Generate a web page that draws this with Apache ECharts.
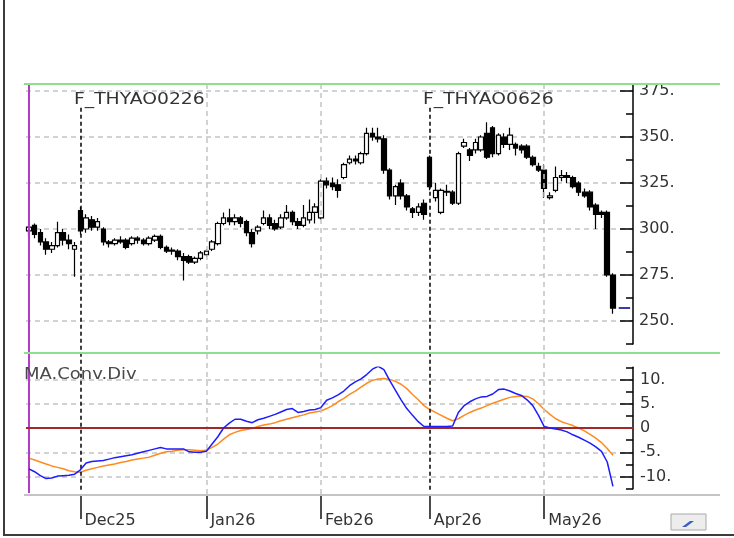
<!DOCTYPE html>
<html>
<head>
<meta charset="utf-8">
<script src="https://cdn.jsdelivr.net/npm/echarts@6/dist/echarts.min.js"></script>
<style>html,body{margin:0;padding:0;background:#fff}#c{width:734px;height:538px}</style>
</head>
<body>
<div id="c"></div>
<script>
// ---- data ----
const opens  = [299,302,298,293,289,291,298,294,289,310, 300,305,301,300,293,292,294,294,292,295, 294,292,294,296,290,288,288,285,285,282, 284,286,289,292,303,306,304,306,304,298, 299,303,306,303,301,306,309,304,302,305, 309,306,326,325,324,328,336,338,336,341, 352,350,349,332,318,325,318,311,309,314, 339,317,309,320,320,314,345,343,343,343, 352,355,341,350,346,346,345,345,339,334, 332,317,321,328,329,328,325,320,320,313, 309,309,275];
const closes = [301,297,293,289,291,298,294,292,291,299, 306,301,304,293,292,294,293,290,295,294, 292,295,296,290,288,288.5,285,283,282,284, 287,288,293,303,306,304,306,303,298,292, 301,306,302,300,306,309,304,302,306,309, 312,326,324,323,321,335,338,337,341,352, 350,349,332,318,323,318,312,309,312,308, 323,321,321,320.5,314,341,347,340,347,350, 339,341,351,346,351,344,343,339,335,332, 322,318,328,329,328,323,320,318,312,308, 308,275,257];
const lows   = [296,295,291,286,287,290,291,289,274,297, 298,299,299,291,290,291,292,289,291,292, 291,291,293,289,287,286,283,272,281,281, 283,285,288,291,302,302,302,301,296,290, 297,302,300,299,300,305,302,300,301,303, 303,305,322,321,317,327,335,335,335,340, 348,347,330,316,313,316,310,306,307,305, 321,315,308,318,313,313,344,337,341,342, 338,339,340,344,343,340,341,338,334,331, 317,316,320,326,325,322,318,317,310,300, 306,274,254];
const highs  = [302,303,300,295,293,304,300,297,293,312, 308,307,306,301,294,295,296,295,296,296, 295,296,297,297,291,290,289,287,286,285, 288,289,294,304,309,311,308,307,305,300, 302,310,308,305,308,313,310,306,313,316, 314,327,328,328,327,336,340,340,342,355, 355,355,351,333,324,327,319,312,314,316, 340,325,322,324,321,342,349,344,349,351, 358,356,352,352,355,347,346,346,340,336, 335,320,334,332,331,329,326,322,321,314, 310,310,276];
const macdLine   = [-8.4,-9.0,-9.8,-10.4,-10.3,-9.9,-9.8,-9.7,-9.5,-8.6, -7.2,-6.9,-6.8,-6.7,-6.4,-6.1,-5.9,-5.7,-5.5,-5.2, -4.9,-4.6,-4.3,-4.0,-4.3,-4.3,-4.3,-4.3,-4.9,-5.0, -5.0,-4.8,-3.3,-1.8,0.0,1.0,1.8,1.8,1.4,1.1, 1.7,2.0,2.4,2.8,3.3,3.8,4.0,3.2,3.4,3.7, 3.8,4.2,5.7,6.2,6.8,7.6,8.7,9.5,10.1,11.0, 12.1,12.7,12.0,9.8,7.8,5.8,4.0,2.6,1.3,0.3, 0.3,0.3,0.3,0.3,0.4,3.2,4.6,5.4,6.0,6.4, 6.5,7.0,7.9,8.0,7.6,7.1,6.7,5.8,4.6,2.6, 0.3,0.0,-0.2,-0.4,-0.8,-1.4,-1.9,-2.5,-3.1,-3.9, -4.8,-7.0,-12.0];
const signalLine = [-6.2,-6.6,-7.0,-7.4,-7.8,-8.1,-8.4,-8.8,-9.0,-9.1, -8.7,-8.4,-8.1,-7.8,-7.6,-7.4,-7.1,-6.9,-6.6,-6.4, -6.2,-6.0,-5.6,-5.2,-4.9,-4.8,-4.6,-4.5,-4.5,-4.6, -4.7,-4.6,-4.0,-3.3,-2.3,-1.4,-0.9,-0.5,-0.3,-0.1, 0.3,0.6,0.8,1.1,1.5,1.8,2.1,2.4,2.7,3.1, 3.3,3.5,4.0,4.6,5.4,6.1,6.9,7.6,8.4,9.2, 9.8,10.1,10.2,10.0,9.6,9.0,8.1,6.9,5.8,4.6, 3.8,3.2,2.6,2.0,1.5,1.9,2.6,3.2,3.7,4.1, 4.6,5.1,5.5,5.9,6.3,6.5,6.6,6.5,6.0,5.0, 3.8,2.8,1.9,1.3,0.9,0.5,0.0,-0.6,-1.3,-2.1, -3.0,-4.2,-5.6];
const lastPrice = 257;
const lastMarkIdx = [103,104,105];
const slotCount = 106;
const categories = Array.from({length: slotCount}, (_, i) => String(i));
const monthIdx = [9,31,51,70,90];
const monthLabels = ['Dec25','Jan26','Feb26','Apr26','May26'];
const rollIdx = [9,70];
const rollLabels = ['F_THYAO0226','F_THYAO0626'];
const monthGridIdx = [31,51,90];
const startIdx = 0;
const priceTicks = [250,275,300,325,350,375];
const macdTicks = [-10,-5,0,5,10];
const panelTitle = 'MA.Conv.Div';

// ---- build ----
const FONT = 'DejaVu Sans';
const TXT = '#333';
const candleData = categories.map((_, i) => i < opens.length ? [opens[i], closes[i], lows[i], highs[i]] : '-');
const lastData = categories.map((_, i) => lastMarkIdx.includes(i) ? lastPrice : '-');
const pad = (arr) => categories.map((_, i) => i < arr.length ? arr[i] : '-');
const empty = categories.map(() => '-');

const chart = echarts.init(document.getElementById('c'), null, {renderer: 'canvas'});
const gridDash = [5, 4];
const vLines = [];
monthGridIdx.forEach(i => vLines.push([{coord: [String(i), 1]}, {coord: [String(i), 0]}]));
rollIdx.forEach(i => vLines.push([{coord: [String(i), 0.942], lineStyle: {color: '#000', type: [4, 3], width: 1.5}}, {coord: [String(i), 0.012]}]));
vLines.push([{coord: [String(startIdx), 1], lineStyle: {color: '#b23cc8', type: 'solid', width: 2}}, {coord: [String(startIdx), 0.005]}]);

const option = {
  animation: false,
  textStyle: {fontFamily: FONT},
  grid: [
    {left: 26, top: 84.1, width: 607, height: 259.9, outerBoundsMode: 'none'},
    {left: 26, top: 367.25, width: 607, height: 121.5, outerBoundsMode: 'none'},
    {left: 26, top: 84, width: 607, height: 411, outerBoundsMode: 'none'}
  ],
  xAxis: [
    {type: 'category', gridIndex: 0, data: categories, show: false},
    {type: 'category', gridIndex: 1, data: categories, show: false},
    {type: 'category', gridIndex: 2, data: categories, position: 'bottom', offset: 8,
      axisLine: {show: false},
      axisTick: {show: true, alignWithLabel: true, interval: (i) => monthIdx.includes(i), length: 24, lineStyle: {color: '#111', width: 1.5}},
      axisLabel: {show: true, interval: (i) => monthIdx.includes(i), formatter: (v, i) => monthLabels[monthIdx.indexOf(Number(v))] || '',
        align: 'left', verticalAlign: 'middle', padding: [0, 0, 0, 4], margin: 18, fontSize: 16, color: TXT, fontFamily: FONT},
      splitLine: {show: false}}
  ],
  yAxis: [
    {type: 'value', gridIndex: 0, position: 'right', min: 237.5, max: 378.75, interval: 12.5,
      axisLine: {show: true, lineStyle: {color: '#000', width: 1.5}},
      axisTick: {show: true, inside: true, length: 7, lineStyle: {color: '#000', width: 1.5}},
      axisLabel: {show: false},
      splitLine: {show: true, lineStyle: {color: ['rgba(0,0,0,0)', '#c4c4c4'], type: gridDash, width: 1.5}}},
    {type: 'value', gridIndex: 0, position: 'right', min: 237.5, max: 378.75,
      axisLine: {show: false},
      axisTick: {show: true, inside: true, length: 13, customValues: priceTicks, lineStyle: {color: '#000', width: 1.5}},
      axisLabel: {show: true, customValues: priceTicks, formatter: (v) => v + '.', margin: 6, fontSize: 16, color: TXT, fontFamily: FONT},
      splitLine: {show: false}},
    {type: 'value', gridIndex: 1, position: 'right', min: -12.5, max: 12.5, interval: 2.5,
      axisLine: {show: true, lineStyle: {color: '#000', width: 1.5}},
      axisTick: {show: true, inside: true, length: 7, lineStyle: {color: '#000', width: 1.5}},
      axisLabel: {show: false},
      splitLine: {show: true, lineStyle: {color: ['rgba(0,0,0,0)', '#c4c4c4'], type: gridDash, width: 1.5}}},
    {type: 'value', gridIndex: 1, position: 'right', min: -12.5, max: 12.5,
      axisLine: {show: false},
      axisTick: {show: true, inside: true, length: 13, customValues: macdTicks, lineStyle: {color: '#000', width: 1.5}},
      axisLabel: {show: true, customValues: macdTicks, formatter: (v) => v === 0 ? '0' : v + '.', margin: 7, fontSize: 16, color: TXT, fontFamily: FONT},
      splitLine: {show: false}},
    {type: 'value', gridIndex: 2, min: 0, max: 1, show: false}
  ],
  series: [
    {type: 'line', xAxisIndex: 2, yAxisIndex: 4, data: empty, symbol: 'none', silent: true, z: 1,
      markLine: {silent: true, symbol: 'none', label: {show: false},
        lineStyle: {color: '#c4c4c4', type: gridDash, width: 1.5}, data: vLines}},
    {type: 'line', xAxisIndex: 1, yAxisIndex: 2, data: empty, symbol: 'none', silent: true, z: 1,
      markLine: {silent: true, symbol: 'none', label: {show: false}, lineStyle: {color: '#a02a2a', type: 'solid', width: 2}, data: [{yAxis: 0}]}},
    {type: 'candlestick', xAxisIndex: 0, yAxisIndex: 0, data: candleData, barWidth: 5, z: 3,
      itemStyle: {color: '#ffffff', color0: '#000000', borderColor: '#000000', borderColor0: '#000000', borderWidth: 1.2}},
    {type: 'line', xAxisIndex: 0, yAxisIndex: 0, data: lastData, symbol: 'none', z: 3, lineStyle: {color: '#3c3ca8', width: 2}},
    {type: 'line', xAxisIndex: 1, yAxisIndex: 2, data: pad(signalLine), symbol: 'none', z: 4, lineStyle: {color: '#ff8a1e', width: 1.5}},
    {type: 'line', xAxisIndex: 1, yAxisIndex: 2, data: pad(macdLine), symbol: 'none', z: 5, lineStyle: {color: '#1c1cff', width: 1.5}}
  ],
  graphic: [
    {type: 'line', shape: {x1: 24, y1: 84, x2: 720, y2: 84}, style: {stroke: '#8ee08e', lineWidth: 2}, z: 10},
    {type: 'line', shape: {x1: 24, y1: 353, x2: 720, y2: 353}, style: {stroke: '#8ee08e', lineWidth: 2}, z: 10},
    {type: 'line', shape: {x1: 24, y1: 495, x2: 720, y2: 495}, style: {stroke: '#c4c4c4', lineWidth: 2}, z: 10},
    {type: 'rect', shape: {x: 20, y: 528, width: 714, height: 6}, style: {fill: '#fff'}, z: 20},
    {type: 'line', shape: {x1: 4, y1: 0, x2: 4, y2: 536}, style: {stroke: '#3c3c3c', lineWidth: 2}, z: 21},
    {type: 'line', shape: {x1: 3, y1: 535, x2: 734, y2: 535}, style: {stroke: '#3c3c3c', lineWidth: 2}, z: 21},
    {type: 'rect', shape: {x: 671, y: 514, width: 35, height: 16}, style: {fill: '#ededed', stroke: '#a8a8a8', lineWidth: 1}, z: 22},
    {type: 'polygon', shape: {points: [[682, 527], [690, 521], [694, 521], [686, 527]]}, style: {fill: '#3a5fc8'}, z: 23},
    {type: 'text', x: 74, y: 100, scaleX: 1.25, style: {text: rollLabels[0], fill: TXT, font: '15px "DejaVu Sans"', verticalAlign: 'middle', align: 'left'}, z: 15},
    {type: 'text', x: 423, y: 100, scaleX: 1.25, style: {text: rollLabels[1], fill: TXT, font: '15px "DejaVu Sans"', verticalAlign: 'middle', align: 'left'}, z: 15},
    {type: 'text', x: 24, y: 375, scaleX: 1.2, style: {text: panelTitle, fill: '#4a4a4a', font: '15px "DejaVu Sans"', verticalAlign: 'middle', align: 'left'}, z: 15}
  ]
};
chart.setOption(option);
</script>
</body>
</html>
